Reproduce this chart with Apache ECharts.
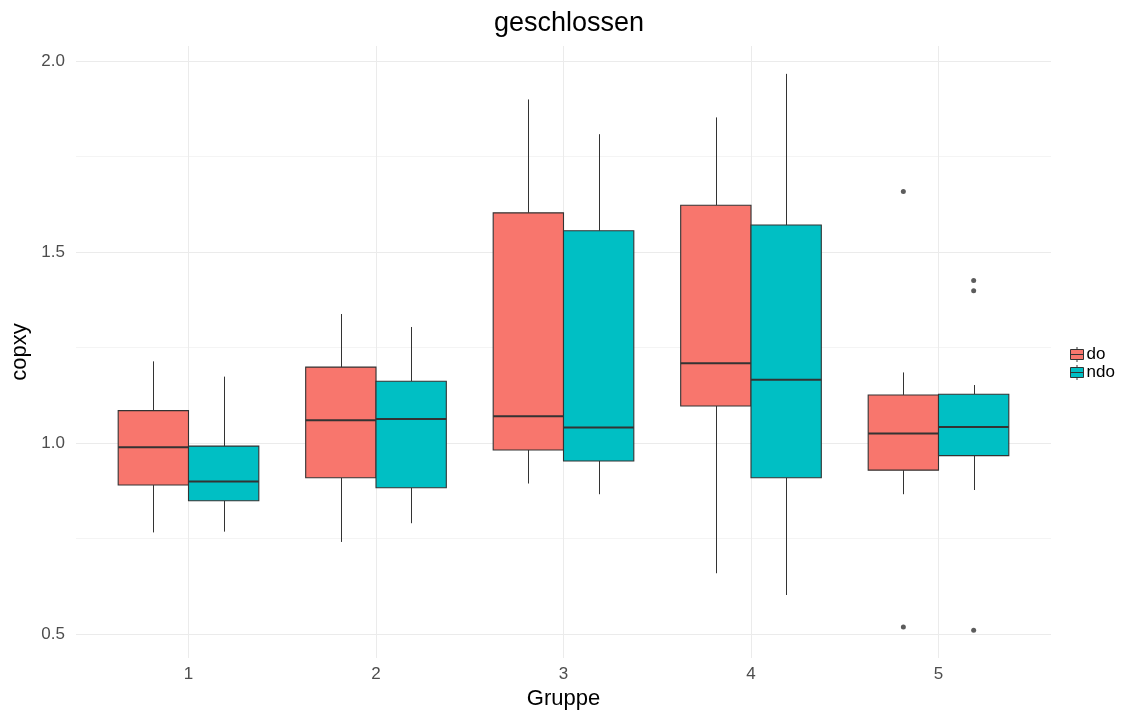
<!DOCTYPE html>
<html>
<head>
<meta charset="utf-8">
<script src="https://cdn.jsdelivr.net/npm/echarts@6/dist/echarts.min.js"></script>
<style>
html,body{margin:0;padding:0;background:#fff;}
#chart{width:1123px;height:716px;}
</style>
</head>
<body>
<div id="chart"></div>
<script>
// ---- data ----
const groups = ['1', '2', '3', '4', '5'];
const seriesNames = ['do', 'ndo'];
// [lower whisker, Q1, median, Q3, upper whisker]
const doStats = [
  [0.766, 0.890, 0.989, 1.085, 1.214],
  [0.741, 0.909, 1.060, 1.199, 1.338],
  [0.894, 0.982, 1.070, 1.603, 1.900],
  [0.659, 1.097, 1.209, 1.623, 1.853],
  [0.866, 0.929, 1.025, 1.126, 1.185]
];
const ndoStats = [
  [0.768, 0.849, 0.899, 0.992, 1.174],
  [0.790, 0.883, 1.063, 1.162, 1.304],
  [0.866, 0.953, 1.041, 1.556, 1.809],
  [0.602, 0.909, 1.166, 1.571, 1.967],
  [0.877, 0.967, 1.042, 1.128, 1.152]
];
// outliers: [group, value]
const doOutliers = [['5', 1.659], ['5', 0.518]];
const ndoOutliers = [['5', 1.426], ['5', 1.399], ['5', 0.510]];
const yMajorTicks = [0.5, 1.0, 1.5, 2.0];
const yMinorTicks = [0.75, 1.25, 1.75];

// ---- layout helpers ----
const DODGE = 0.75;           // total dodge width per group
const BOX_W = DODGE / 2;      // width of one box
const OFFSETS = [-BOX_W / 2, BOX_W / 2];
const COLORS = ['#F8766D', '#00BFC4'];

function boxData(stats, si) {
  return stats.map((s, i) => [i + 1 + OFFSETS[si]].concat(s));
}
function outlierData(list, si) {
  return list.map(o => [groups.indexOf(o[0]) + 1 + OFFSETS[si], o[1]]);
}

function renderBox(params, api) {
  const x = api.value(0);
  const lo = api.coord([x, api.value(1)]);
  const q1 = api.coord([x, api.value(2)]);
  const md = api.coord([x, api.value(3)]);
  const q3 = api.coord([x, api.value(4)]);
  const hi = api.coord([x, api.value(5)]);
  const hw = api.size([BOX_W, 0])[0] / 2;
  const cx = Math.round(lo[0]) + 0.5;
  const fill = api.visual('color');
  return {
    type: 'group',
    children: [
      { type: 'line', shape: { x1: cx, y1: lo[1], x2: cx, y2: q1[1] },
        style: { stroke: '#333333', lineWidth: 1 } },
      { type: 'line', shape: { x1: cx, y1: q3[1], x2: cx, y2: hi[1] },
        style: { stroke: '#333333', lineWidth: 1 } },
      { type: 'rect', shape: { x: q1[0] - hw, y: q3[1], width: hw * 2, height: q1[1] - q3[1] },
        style: { fill: fill, stroke: '#333333', lineWidth: 1.1 } },
      { type: 'line', shape: { x1: md[0] - hw, y1: md[1], x2: md[0] + hw, y2: md[1] },
        style: { stroke: '#333333', lineWidth: 2 } }
    ]
  };
}

const legendIcon = 'path://M0,2.5 L13,2.5 L13,12.5 L0,12.5 Z M0,7.5 L13,7.5 M6.5,0 L6.5,2.5 M6.5,12.5 L6.5,15';

const chart = echarts.init(document.getElementById('chart'), null, { renderer: 'canvas' });

const axisFont = 'Liberation Sans, Arial, Helvetica, sans-serif';

chart.setOption({
  backgroundColor: '#ffffff',
  animation: false,
  title: {
    text: 'geschlossen',
    left: 564,
    top: 5,
    textAlign: 'center',
    textStyle: { fontFamily: axisFont, fontSize: 27, fontWeight: 'normal', color: '#000000' }
  },
  legend: {
    data: seriesNames,
    orient: 'vertical',
    left: 1070,
    top: 346,
    itemWidth: 13,
    itemHeight: 15,
    itemGap: 1,
    padding: 0,
    icon: legendIcon,
    itemStyle: { borderColor: '#333333', borderWidth: 1 },
    textStyle: { fontFamily: axisFont, fontSize: 17, color: '#000000', lineHeight: 16, padding: [0, 0, 0, -2] }
  },
  grid: { left: 76, right: 72, top: 46, bottom: 58, containLabel: false },
  xAxis: {
    type: 'value',
    min: 0.4,
    max: 5.6,
    name: 'Gruppe',
    nameLocation: 'middle',
    nameGap: 30,
    nameTextStyle: { fontFamily: axisFont, fontSize: 22, color: '#000000' },
    axisLine: { show: false },
    axisTick: { show: false, customValues: [1, 2, 3, 4, 5] },
    axisLabel: {
      customValues: [1, 2, 3, 4, 5],
      formatter: v => groups[Math.round(v) - 1] || '',
      fontFamily: axisFont, fontSize: 17, color: '#4d4d4d', margin: 8
    },
    splitLine: { show: true, customValues: [1, 2, 3, 4, 5], lineStyle: { color: '#ebebeb', width: 1 } }
  },
  yAxis: [{
    type: 'value',
    min: 0.437,
    max: 2.040,
    name: 'copxy',
    nameLocation: 'middle',
    nameGap: 44,
    nameTextStyle: { fontFamily: axisFont, fontSize: 22, color: '#000000' },
    axisLine: { show: false },
    axisTick: { show: false, customValues: yMajorTicks },
    axisLabel: {
      customValues: yMajorTicks,
      formatter: v => v.toFixed(1),
      fontFamily: axisFont, fontSize: 17, color: '#4d4d4d', margin: 11
    },
    splitLine: { show: true, customValues: yMajorTicks, lineStyle: { color: '#ebebeb', width: 1 } }
  }, {
    type: 'value',
    min: 0.437,
    max: 2.040,
    position: 'left',
    axisLine: { show: false },
    axisTick: { show: false, customValues: yMinorTicks },
    axisLabel: { show: false, customValues: yMinorTicks },
    splitLine: { show: true, customValues: yMinorTicks, lineStyle: { color: '#f4f4f4', width: 1 } }
  }],
  series: [
    {
      name: 'do', type: 'custom', renderItem: renderBox,
      itemStyle: { color: COLORS[0], borderColor: '#333333', borderWidth: 1 },
      encode: { x: 0, y: [1, 2, 3, 4, 5] },
      data: boxData(doStats, 0), z: 3
    },
    {
      name: 'ndo', type: 'custom', renderItem: renderBox,
      itemStyle: { color: COLORS[1], borderColor: '#333333', borderWidth: 1 },
      encode: { x: 0, y: [1, 2, 3, 4, 5] },
      data: boxData(ndoStats, 1), z: 3
    },
    {
      name: 'do outliers', type: 'scatter', symbolSize: 5,
      itemStyle: { color: '#333333' },
      data: outlierData(doOutliers, 0), z: 4
    },
    {
      name: 'ndo outliers', type: 'scatter', symbolSize: 5,
      itemStyle: { color: '#333333' },
      data: outlierData(ndoOutliers, 1), z: 4
    }
  ]
});
</script>
</body>
</html>
